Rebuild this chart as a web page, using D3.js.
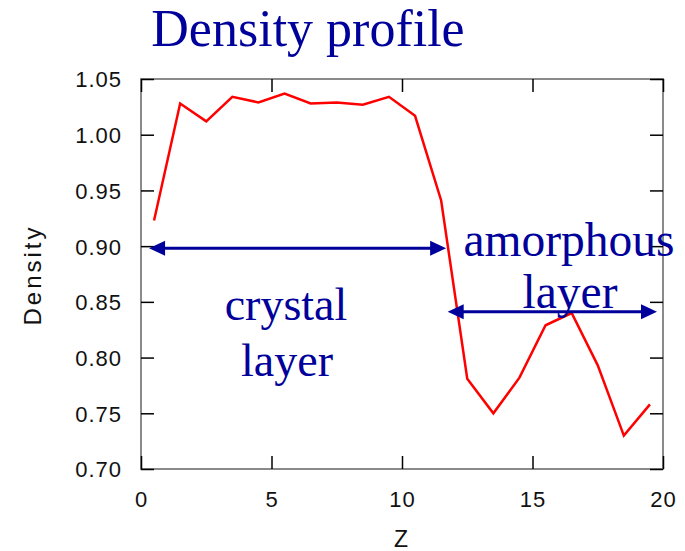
<!DOCTYPE html>
<html>
<head>
<meta charset="utf-8">
<script src="https://cdn.jsdelivr.net/npm/d3@7"></script>
<style>
  html, body { margin: 0; padding: 0; background: #fff; }
  svg { display: block; }
</style>
</head>
<body>
<svg id="chart" width="685" height="551"></svg>
<script>
// Density across the slab, sampled at the centre of each 1-unit bin in Z
const zValues = [0.5, 1.5, 2.5, 3.5, 4.5, 5.5, 6.5, 7.5, 8.5, 9.5,
                 10.5, 11.5, 12.5, 13.5, 14.5, 15.5, 16.5, 17.5, 18.5, 19.5];
const densityValues = [0.923, 1.028, 1.012, 1.034, 1.029, 1.037, 1.028, 1.029, 1.027, 1.034,
                       1.017, 0.941, 0.781, 0.750, 0.782, 0.829, 0.840, 0.793, 0.730, 0.758];

const xTicks = [0, 5, 10, 15, 20];
const yTicks = [0.70, 0.75, 0.80, 0.85, 0.90, 0.95, 1.00, 1.05];

// Extent of each region, drawn as double-headed arrows: [zStart, zEnd, density]
const crystalSpan = [0.31, 11.69, 0.898];
const amorphousSpan = [11.75, 19.77, 0.8412];

const svg = d3.select("#chart");
const plotLeft = 141, plotRight = 663, plotTop = 79, plotBottom = 469;

const x = d3.scaleLinear().domain([0, 20]).range([plotLeft, plotRight]);
const y = d3.scaleLinear().domain([0.70, 1.05]).range([plotBottom, plotTop]);

const navy = "#00009a";
const frameGray = "#8a8a8a";

// frame
svg.append("rect")
  .attr("x", plotLeft).attr("y", plotTop)
  .attr("width", plotRight - plotLeft).attr("height", plotBottom - plotTop)
  .attr("fill", "none").attr("stroke", frameGray).attr("stroke-width", 2);

const tickFont = "'Liberation Sans', Arial, sans-serif";

function styleAxis(g, showLabels) {
  g.select(".domain").remove();
  g.selectAll(".tick line").attr("stroke", "#000").attr("stroke-width", 1.5);
  g.selectAll(".tick text")
    .attr("fill", "#111")
    .style("font-family", tickFont)
    .style("font-size", "22px")
    .style("letter-spacing", "1px");
  if (!showLabels) g.selectAll(".tick text").remove();
}

svg.append("g").attr("transform", `translate(${plotLeft},0)`)
  .call(d3.axisLeft(y).tickValues(yTicks).tickFormat(d3.format(".2f")).tickSize(-13).tickPadding(19))
  .call(g => styleAxis(g, true))
  .selectAll(".tick text").attr("dy", "0.36em");

svg.append("g").attr("transform", `translate(${plotRight},0)`)
  .call(d3.axisRight(y).tickValues(yTicks).tickSize(-13))
  .call(g => styleAxis(g, false));

svg.append("g").attr("transform", `translate(0,${plotBottom})`)
  .call(d3.axisBottom(x).tickValues(xTicks).tickFormat(d3.format("d")).tickSize(-13).tickPadding(22))
  .call(g => styleAxis(g, true));

svg.append("g").attr("transform", `translate(0,${plotTop})`)
  .call(d3.axisTop(x).tickValues(xTicks).tickSize(-13))
  .call(g => styleAxis(g, false));

// density curve
const line = d3.line().x((d, i) => x(zValues[i])).y(d => y(d));
svg.append("path")
  .datum(densityValues)
  .attr("d", line)
  .attr("fill", "none")
  .attr("stroke", "#ff0000")
  .attr("stroke-width", 2.5)
  .attr("stroke-linejoin", "miter");

// double-headed arrows: shaft plus a filled head at each end
const headLen = 16, headHalf = 7.5;
[crystalSpan, amorphousSpan].forEach(s => {
  const x0 = x(s[0]), x1 = x(s[1]), yy = y(s[2]);
  const g = svg.append("g");
  g.append("line")
    .attr("x1", x0 + headLen - 2).attr("x2", x1 - headLen + 2)
    .attr("y1", yy).attr("y2", yy)
    .attr("stroke", navy).attr("stroke-width", 3);
  g.append("path")
    .attr("d", `M${x0},${yy} L${x0 + headLen},${yy - headHalf} L${x0 + headLen},${yy + headHalf} Z`)
    .attr("fill", navy);
  g.append("path")
    .attr("d", `M${x1},${yy} L${x1 - headLen},${yy - headHalf} L${x1 - headLen},${yy + headHalf} Z`)
    .attr("fill", navy);
});

// text
const serif = "'Liberation Serif', 'Times New Roman', serif";

svg.append("text")
  .attr("x", 308).attr("y", 46)
  .attr("text-anchor", "middle")
  .style("font-family", serif).style("font-size", "52px")
  .attr("fill", navy)
  .text("Density profile");

const regionLabels = [
  { text: "crystal", cx: 286, by: 320, size: 46 },
  { text: "layer", cx: 287, by: 376, size: 46 },
  { text: "amorphous", cx: 569, by: 256, size: 47.5 },
  { text: "layer", cx: 570, by: 308, size: 47.5 }
];
svg.selectAll("text.region")
  .data(regionLabels)
  .join("text")
  .attr("class", "region")
  .attr("x", d => d.cx).attr("y", d => d.by)
  .attr("text-anchor", "middle")
  .style("font-family", serif).style("font-size", d => d.size + "px")
  .attr("fill", navy)
  .text(d => d.text);

svg.append("text")
  .attr("x", 401).attr("y", 547)
  .attr("text-anchor", "middle")
  .style("font-family", tickFont).style("font-size", "23px")
  .attr("fill", "#111")
  .text("Z");

svg.append("text")
  .attr("transform", "translate(41,275) rotate(-90)")
  .attr("text-anchor", "middle")
  .style("font-family", tickFont).style("font-size", "24px")
  .style("letter-spacing", "3px")
  .attr("fill", "#111")
  .text("Density");
</script>
</body>
</html>
